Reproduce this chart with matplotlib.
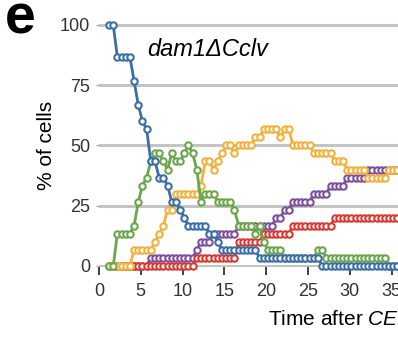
import numpy as np
import matplotlib
matplotlib.use("Agg")
import matplotlib.pyplot as plt

plt.rcParams["font.family"] = "Liberation Sans"
plt.rcParams["mathtext.fontset"] = "custom"
plt.rcParams["mathtext.rm"] = "Liberation Sans"
plt.rcParams["mathtext.it"] = "Liberation Sans:italic"

N_CELLS = 30
T_START = 1.2   # min, first frame
T_STEP = 0.5    # min between frames

# number of cells in each state, as (count, number of frames) runs
blue_counts = [30, 26, 23, 20, 18, 17, 13, 11, 10, 8, 7, 6, 5, 4, 3, 2, 1, 0]
blue_runs = [2, 4, 1, 1, 1, 1, 2, 2, 1, 2, 1, 1, 5, 2, 1, 9, 15, 31]

green_counts = [0, 4, 5, 8, 10, 11, 13, 14, 13, 12, 14, 13, 14, 15, 14, 12, 8, 9, 8, 7,
                5, 4, 5, 3, 2, 1, 2, 1, 0]
green_runs = [2, 4, 1, 1, 1, 1, 1, 2, 1, 1, 1, 2, 1, 1, 1, 1, 1, 3, 4, 1,
              4, 1, 1, 1, 4, 8, 2, 15, 15]

orange_counts = [0, 2, 3, 4, 5, 7, 9, 10, 13, 12, 13, 14, 15, 14, 15, 16, 17, 16, 17, 15,
                 14, 13, 12, 11, 12]
orange_runs = [6, 5, 1, 1, 1, 2, 6, 1, 2, 1, 1, 1, 2, 1, 4, 2, 4, 1, 2, 5,
               5, 3, 5, 5, 15]

red_counts = [0, 1, 3, 4, 5, 6]
red_runs = [21, 10, 6, 7, 10, 28]

purple_counts = [0, 1, 2, 3, 4, 5, 6, 7, 8, 9, 10, 11, 12]
purple_runs = [10, 11, 1, 3, 6, 9, 2, 2, 5, 4, 4, 5, 20]

# bottom to top drawing order
series = [
    (purple_counts, purple_runs, "#7d4f9c"),
    (red_counts, red_runs, "#d63b33"),
    (orange_counts, orange_runs, "#f1b13d"),
    (green_counts, green_runs, "#6aa64b"),
    (blue_counts, blue_runs, "#3c6ea6"),
]

fig = plt.figure(figsize=(3.98, 3.38), dpi=100)
# axes runs off the right edge, like the cropped original
ax = fig.add_axes([99 / 398, (338 - 267.4) / 338, 45 * 8.36 / 398, (267.4 - 20) / 338])

for z, (counts, runs, col) in enumerate(series):
    y = np.repeat(counts, runs) / N_CELLS * 100
    t = T_START + T_STEP * np.arange(len(y))
    ax.plot(t, y, "-o", color=col, lw=2.0, ms=4.6, mfc="white", mew=1.5,
            clip_on=False, zorder=3 + z)

ax.set_xlim(0, 45)
ax.set_ylim(-0.6, 102)
ax.set_xticks(np.arange(0, 45, 5))
ax.set_yticks([0, 25, 50, 75, 100])
ax.yaxis.grid(True, color="#c4c4c4", lw=2.2)
ax.set_axisbelow(True)
for s in ax.spines.values():
    s.set_visible(False)
ax.tick_params(axis="x", direction="out", length=6, width=1.3, color="#333333",
               labelsize=13, labelcolor="#333333", pad=5)
ax.tick_params(axis="y", direction="out", length=2.5, width=1, color="#aaaaaa",
               labelsize=13, labelcolor="#333333", pad=4)

fig.text(5 / 398, (338 - 33) / 338, "e", fontsize=40, fontweight="bold", va="baseline")
fig.text(147 / 398, (338 - 56) / 338, "dam1ΔCclv", style="italic", fontsize=17,
         va="baseline")
fig.text(47 / 398, (338 - 145) / 338, "% of cells", rotation=90, ha="center",
         va="center", fontsize=15)
fig.text(268 / 398, 13 / 338, r"Time after $\mathit{CEN}$ reactivation (min)",
         fontsize=15, va="baseline")

fig.savefig("out.png", dpi=100)
